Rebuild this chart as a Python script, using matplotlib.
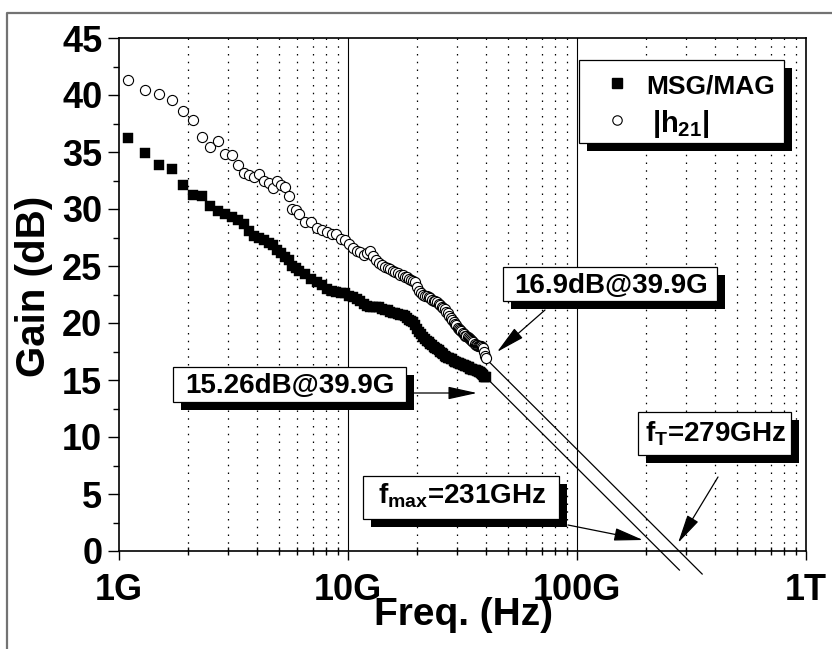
'''plot.py - MSG/MAG and |h21| vs frequency'''
import numpy as np
import matplotlib
matplotlib.use('Agg')
import matplotlib.pyplot as plt
from matplotlib.patches import Rectangle
from matplotlib.lines import Line2D
from matplotlib.ticker import FixedLocator, FixedFormatter, NullFormatter

plt.rcParams['font.family'] = ['Liberation Sans', 'DejaVu Sans']
plt.rcParams['font.weight'] = 'bold'
plt.rcParams['mathtext.fontset'] = 'custom'
plt.rcParams['mathtext.rm'] = 'Liberation Sans:bold'
plt.rcParams['mathtext.it'] = 'Liberation Sans:bold'
plt.rcParams['mathtext.bf'] = 'Liberation Sans:bold'

# ---- data (frequency in GHz, gain in dB) ----
freq_ghz = [1.1, 1.3, 1.5, 1.7, 1.9, 2.1, 2.3, 2.5, 2.7, 2.9, 3.1, 3.3, 3.5,
            3.7, 3.9, 4.1, 4.3, 4.5, 4.7, 4.9, 5.1, 5.3, 5.5, 5.7, 5.9, 6.1,
            6.5, 6.9, 7.3, 7.7, 8.1, 8.5, 8.9, 9.3, 9.7, 10.1, 10.5, 10.9,
            11.3, 11.7, 12.1, 12.5, 12.9, 13.3, 13.7, 14.1, 14.5, 14.9, 15.3,
            15.7, 16.1, 16.5, 16.9, 17.3, 17.7, 18.1, 18.5, 18.9, 19.3, 19.7,
            20.1, 20.5, 20.9, 21.3, 21.7, 22.1, 22.5, 22.9, 23.3, 23.7, 24.1,
            24.5, 24.9, 25.3, 25.7, 26.1, 26.5, 26.9, 27.3, 27.7, 28.1, 28.5,
            28.9, 29.3, 29.7, 30.1, 30.5, 30.9, 31.3, 31.7, 32.1, 32.5, 32.9,
            33.3, 33.7, 34.1, 34.5, 34.9, 35.3, 35.7, 36.1, 36.5, 36.9, 37.3,
            37.7, 38.1, 38.5, 38.9, 39.3, 39.7, 39.9]

msg_db = [36.2, 34.9, 33.9, 33.5, 32.1, 31.2, 31.1, 30.3, 29.8, 29.6, 29.3,
          29.0, 28.7, 28.1, 27.6, 27.5, 27.3, 27.0, 26.8, 26.4, 26.1, 25.8,
          25.5, 25.0, 24.8, 24.6, 24.3, 23.9, 23.6, 23.3, 23.0, 22.8, 22.7,
          22.6, 22.6, 22.4, 22.3, 22.1, 21.9, 21.7, 21.5, 21.4, 21.4, 21.4,
          21.4, 21.2, 21.1, 21.1, 21.0, 20.9, 20.9, 20.8, 20.7, 20.7, 20.6,
          20.4, 20.3, 20.2, 20.1, 19.8, 19.5, 19.2, 19.0, 18.8, 18.6, 18.4,
          18.3, 18.2, 18.1, 17.9, 17.8, 17.7, 17.6, 17.5, 17.4, 17.3, 17.1,
          17.0, 16.9, 16.9, 16.8, 16.8, 16.7, 16.6, 16.6, 16.5, 16.5, 16.4,
          16.4, 16.3, 16.3, 16.2, 16.2, 16.1, 16.1, 16.0, 16.0, 16.0, 15.9,
          15.9, 15.9, 15.8, 15.8, 15.7, 15.7, 15.6, 15.5, 15.4, 15.3, 15.3,
          15.26]

h21_db = [41.3, 40.4, 40.1, 39.6, 38.6, 37.8, 36.3, 35.4, 36.0, 34.8, 34.7,
          33.9, 33.2, 33.0, 32.8, 33.1, 32.5, 32.3, 31.8, 32.5, 32.1, 31.9,
          31.1, 30.0, 29.9, 29.6, 28.9, 28.9, 28.3, 28.2, 28.0, 27.8, 27.8,
          27.4, 27.3, 26.9, 26.6, 26.3, 26.2, 26.0, 26.1, 26.3, 25.9, 25.5,
          25.3, 25.1, 24.9, 24.8, 24.7, 24.6, 24.5, 24.4, 24.2, 24.2, 24.0,
          24.0, 23.9, 23.8, 23.7, 23.6, 23.2, 22.8, 22.6, 22.5, 22.4, 22.4,
          22.3, 22.2, 22.0, 21.9, 21.9, 21.8, 21.7, 21.6, 21.4, 21.3, 21.2,
          21.0, 20.9, 20.6, 20.4, 20.3, 20.1, 19.9, 19.8, 19.6, 19.5, 19.4,
          19.3, 19.1, 19.0, 18.9, 18.9, 18.8, 18.7, 18.6, 18.5, 18.4, 18.3,
          18.2, 18.1, 18.1, 18.0, 18.0, 18.0, 18.0, 17.9, 17.8, 17.5, 17.1,
          16.9]

fmax_ghz = 231
ft_ghz = 279

# figure is laid out in pixels of the 832x649 output
W, H = 832, 649
def fx(x): return x / W
def fy(y): return 1 - y / H

fig = plt.figure(figsize=(W / 100, H / 100), dpi=100)
ax = fig.add_axes([fx(119), fy(551), (806 - 119) / W, (551 - 38) / H])

f = np.array(freq_ghz) * 1e9
ax.plot(f, msg_db, ls='none', marker='s', ms=7.0, mfc='k', mec='k', mew=0.3, zorder=5)
ax.plot(f, h21_db, ls='none', marker='o', ms=7.3, mfc='white', mec='k', mew=0.8, zorder=6)

# -20 dB/dec extrapolations down to fmax / fT
def extrap(f0, g0, fzero, fend):
    slope = g0 / np.log10(fzero / f0)
    ff = np.array([f0, fend])
    return ff * 1e9, g0 - slope * np.log10(ff / f0)

xx, yy = extrap(freq_ghz[-1], msg_db[-1], fmax_ghz, 280)
ax.plot(xx, yy, color='k', lw=0.9, clip_on=False, zorder=4)
xx, yy = extrap(freq_ghz[-1], h21_db[-1], ft_ghz, 352)
ax.plot(xx, yy, color='k', lw=0.9, clip_on=False, zorder=4)

# axes styling
ax.set_xscale('log')
ax.set_xlim(1e9, 1e12)
ax.set_ylim(0, 45)
ax.xaxis.set_major_locator(FixedLocator([1e9, 1e10, 1e11, 1e12]))
ax.xaxis.set_major_formatter(FixedFormatter(['1G', '10G', '100G', '1T']))
minors = [m * 10.0 ** d for d in (9, 10, 11) for m in range(2, 10)]
ax.xaxis.set_minor_locator(FixedLocator(minors))
ax.xaxis.set_minor_formatter(NullFormatter())
ax.set_yticks(np.arange(0, 46, 5))
ax.set_yticks(np.arange(2.5, 45, 5), minor=True)
ax.tick_params(axis='y', which='major', direction='out', length=8, width=1.0,
               labelsize=26, pad=4, right=False)
ax.tick_params(axis='y', which='minor', direction='out', length=4.5, width=1.0, right=False)
ax.tick_params(axis='x', which='major', direction='out', length=6.5, width=1.0,
               labelsize=26, pad=9, top=False)
ax.tick_params(axis='x', which='minor', direction='inout', length=6, width=1.0, top=False)
for lab in ax.get_xticklabels() + ax.get_yticklabels():
    lab.set_fontweight('bold')
for s in ax.spines.values():
    s.set_linewidth(1.2)

for v in minors:
    ax.axvline(v, color='k', lw=0.9, ls=(0, (1.2, 5)), zorder=1)
for v in (1e10, 1e11):
    ax.axvline(v, color='k', lw=0.8, zorder=1)

fig.text(fx(34), fy(286), 'Gain (dB)', rotation=90, ha='center', va='center',
         fontsize=29, fontweight='bold')
fig.text(fx(464), fy(615), 'Freq. (Hz)', ha='center', va='center',
         fontsize=28, fontweight='bold')

# outer frame of the original figure
fig.add_artist(Line2D([fx(7), fx(7), 1.0], [0.0, fy(13), fy(13)],
                      color='0.45', lw=1.6, transform=fig.transFigure))

def shadow_box(x0, y0, x1, y1, off=8):
    fig.add_artist(Rectangle((fx(x0 + off), fy(y1 + off)), (x1 - x0) / W, (y1 - y0) / H,
                             transform=fig.transFigure, fc='k', ec='k', lw=0, zorder=10))
    fig.add_artist(Rectangle((fx(x0), fy(y1)), (x1 - x0) / W, (y1 - y0) / H,
                             transform=fig.transFigure, fc='white', ec='k', lw=0.9, zorder=11))

def arrow(x0, y0, x1, y1):
    ax.annotate('', xy=(fx(x1), fy(y1)), xycoords='figure fraction',
                xytext=(fx(x0), fy(y0)), textcoords='figure fraction',
                arrowprops=dict(arrowstyle='-|>,head_length=1.0,head_width=0.22',
                                mutation_scale=18, lw=0.9, color='k',
                                shrinkA=0, shrinkB=0), zorder=12)

# legend
shadow_box(579, 60, 784, 143)
fig.add_artist(Line2D([fx(617)], [fy(83)], marker='s', ms=6.8, color='k', ls='none',
                      transform=fig.transFigure, zorder=12))
fig.add_artist(Line2D([fx(617)], [fy(120)], marker='o', ms=6.8, mfc='white', mec='k',
                      mew=0.8, ls='none', transform=fig.transFigure, zorder=12))
fig.text(fx(646), fy(93), 'MSG/MAG', ha='left', va='baseline', fontsize=19,
         fontweight='bold', zorder=12)
fig.text(fx(652), fy(132), r'$|h_{21}|$', ha='left', va='baseline', fontsize=21, zorder=12)

# annotations
shadow_box(503, 267, 717, 301)
fig.text(fx(611), fy(293), '16.9dB@39.9G', ha='center', va='baseline', fontsize=20,
         fontweight='bold', zorder=12)
arrow(545, 310, 497, 352)

shadow_box(173, 367, 406, 402)
fig.text(fx(290), fy(393), '15.26dB@39.9G', ha='center', va='baseline', fontsize=20,
         fontweight='bold', zorder=12)
arrow(414, 393, 477, 393)

shadow_box(638, 412, 791, 455)
fig.text(fx(716), fy(441), r'f$_{T}$=279GHz', ha='center', va='baseline', fontsize=20,
         fontweight='bold', zorder=12)
arrow(718, 477, 678, 543)

shadow_box(363, 476, 559, 519)
fig.text(fx(462), fy(503), r'f$_{max}$=231GHz', ha='center', va='baseline', fontsize=20,
         fontweight='bold', zorder=12)
arrow(568, 525, 643, 540)

fig.savefig('out.png', dpi=100)
